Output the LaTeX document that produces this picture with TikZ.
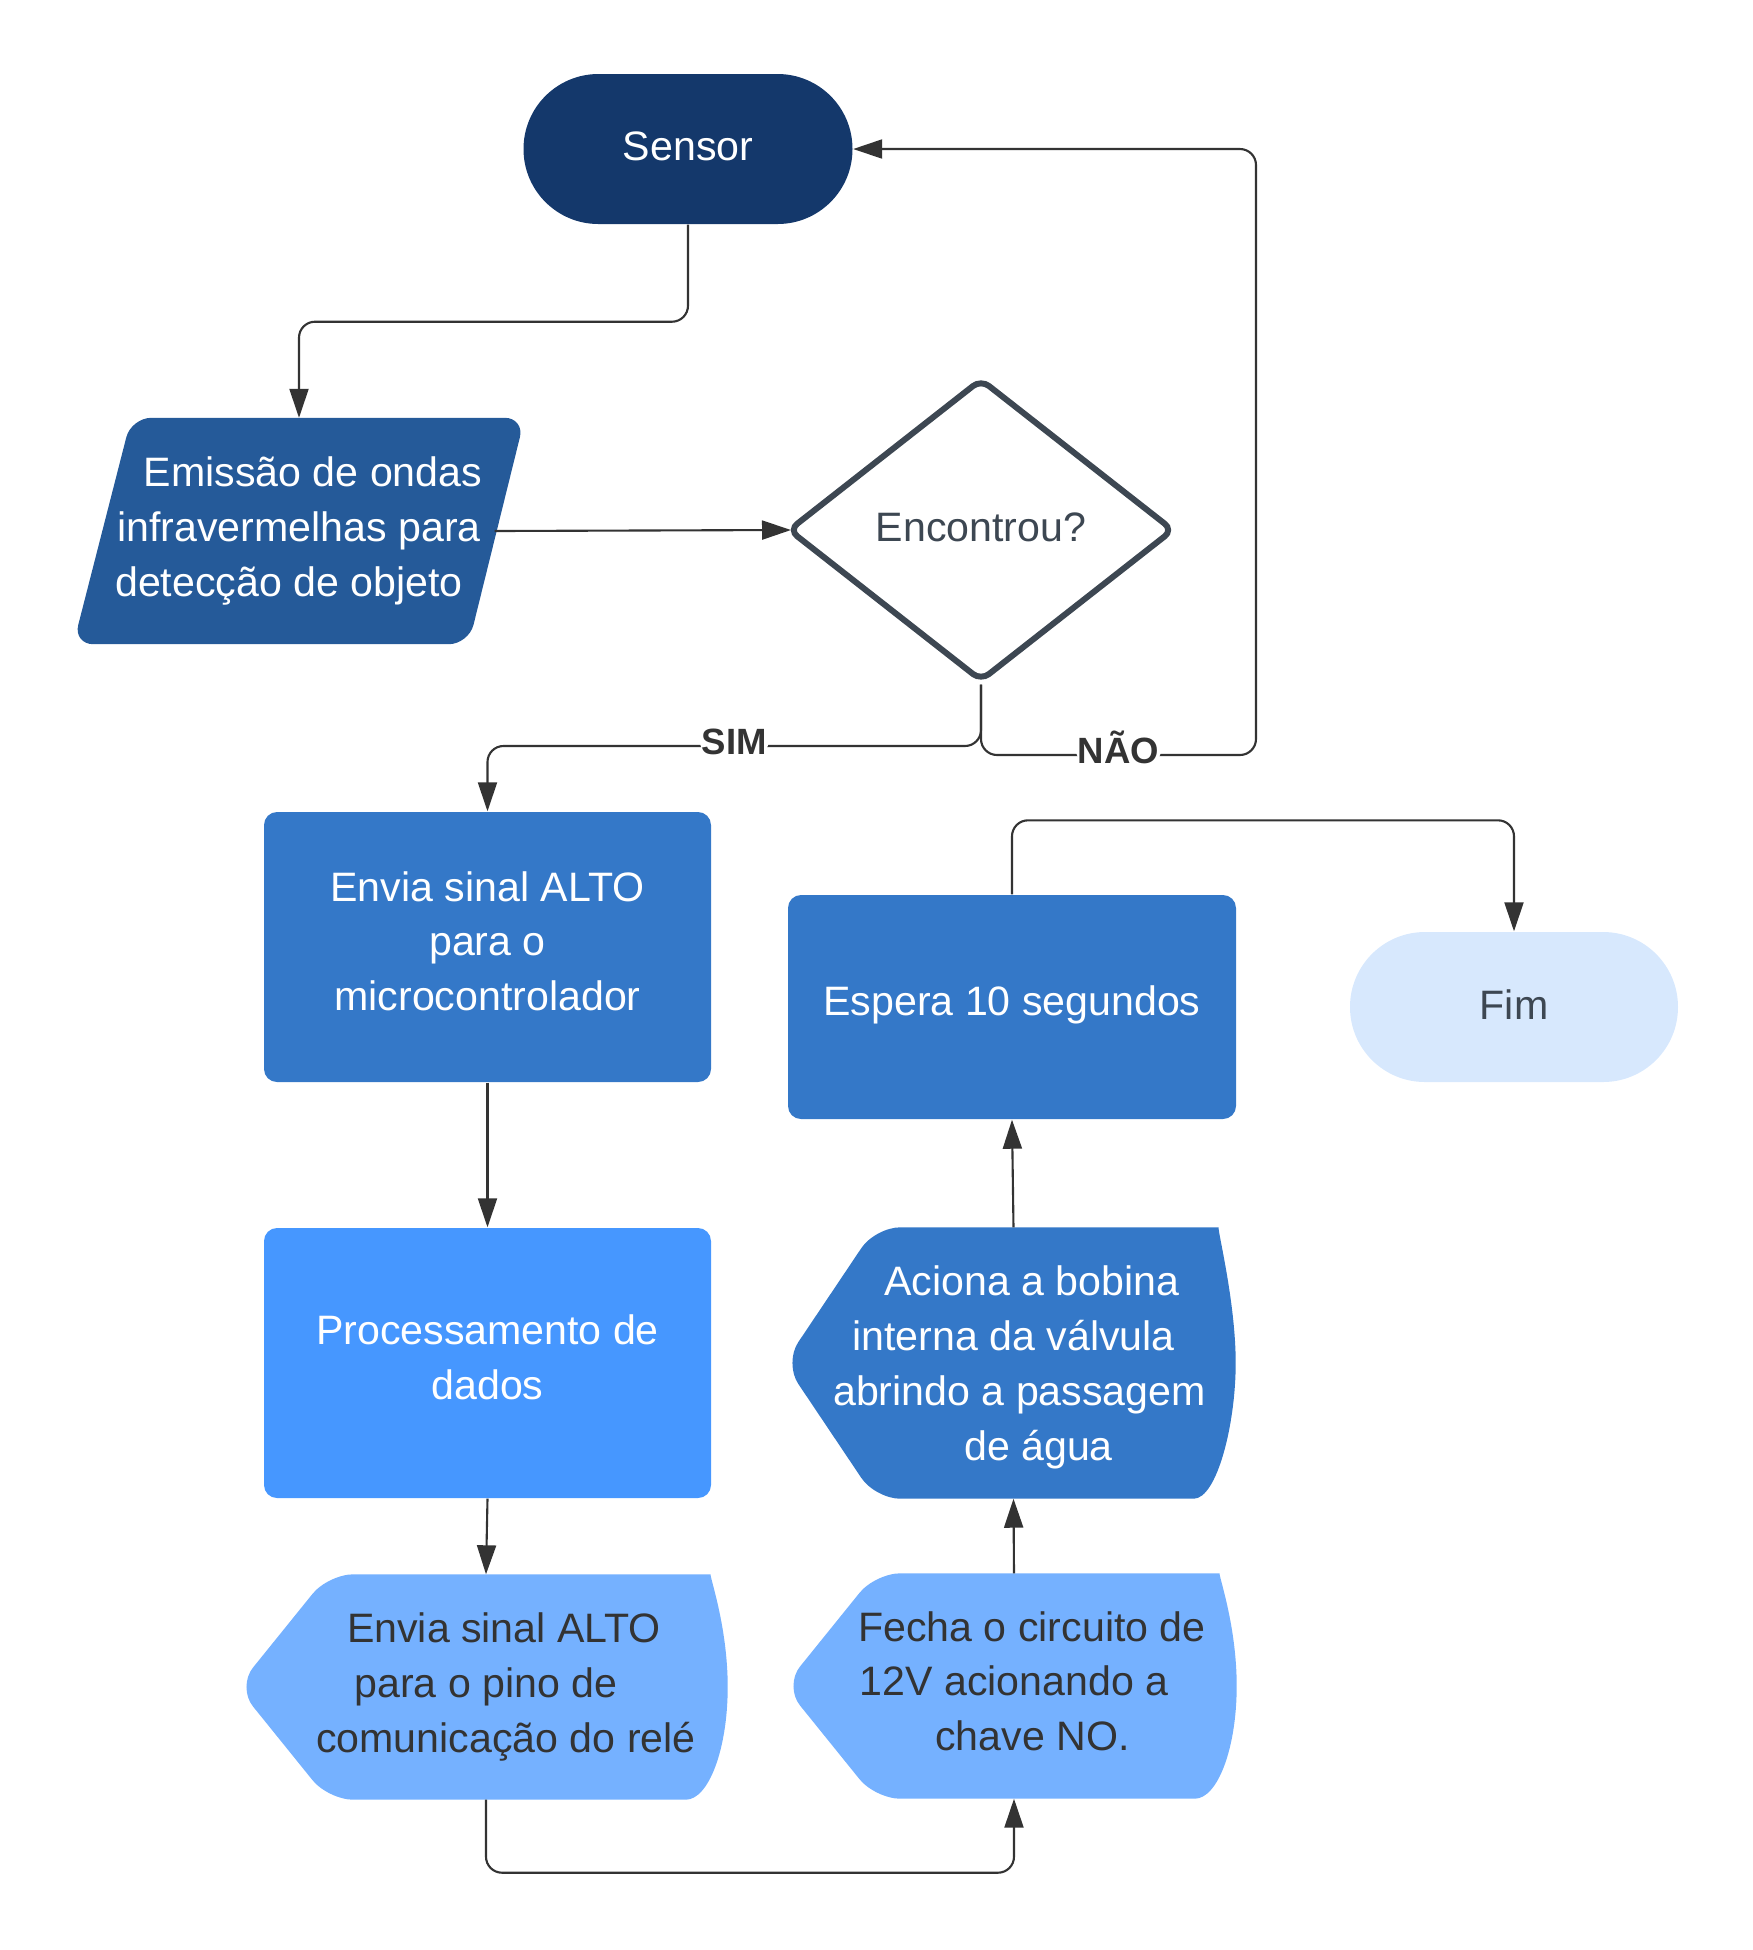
\documentclass[tikz,border=0pt]{standalone}
\usepackage{fontspec}
\setmainfont{Liberation Sans}
\usepackage{xcolor}
\usepackage{tikz}
\usetikzlibrary{positioning,shapes.geometric,arrows.meta,calc,backgrounds}

\definecolor{navy}{HTML}{14386B}
\definecolor{steelblue}{HTML}{255A99}
\definecolor{midblue}{HTML}{3478C8}
\definecolor{brightblue}{HTML}{4697FF}
\definecolor{lightblue}{HTML}{75B1FF}
\definecolor{paleblue}{HTML}{D7E8FD}
\definecolor{slate}{HTML}{3D4752}
\definecolor{ink}{HTML}{333333}

\newcommand{\displayfill}[2]{%
  \fill[#2, rounded corners=2.5mm] ($(#1.south east)+(-0.42,0)$) -- ($(#1.south west)+(0.84,0)$)
    -- ($(#1.west)+(-0.07,0)$) -- ($(#1.north west)+(0.84,0)$) -- ($(#1.north east)+(-0.42,0)$)
    [sharp corners] .. controls ($(#1.north east)+(-0.19,0)$) and ($(#1.east)+(0,-0.62)$) .. (#1.east)
    .. controls ($(#1.east)+(0,0.62)$) and ($(#1.south east)+(-0.19,0)$) .. cycle;}
\newcommand{\pad}[2]{\mbox{\hspace{#1}#2}}

\begin{document}
\begin{tikzpicture}[x=1cm,y=-1cm,
    every node/.style={font=\fontsize{11.7}{15.6}\selectfont, align=center, inner sep=0pt},
    term/.style={rectangle, rounded corners=7.49mm, minimum width=3.29cm, minimum height=1.5cm},
    proc/.style={rectangle, rounded corners=1.3mm, fill=midblue, text=white, minimum width=4.47cm, minimum height=2.7cm},
    shell/.style={rectangle, minimum width=#1, minimum height=2.24cm},
    conn/.style={draw=ink, line width=0.6pt, rounded corners=1.6mm, -{Triangle[length=2.9mm,width=1.9mm]}},
    lbl/.style={font=\fontsize{10.4}{12}\selectfont\bfseries, text=ink, fill=white, inner sep=0.6pt, text height=0.26cm, text depth=0pt, yshift=0.5mm}]
    \useasboundingbox (0,0) rectangle (17.53,19.50);

    \node[term, fill=navy, text=white, text depth=0.05cm] (sensor) at (6.88,1.49) {Sensor};
    \node[rectangle, minimum width=4.42cm, minimum height=2.25cm, text=white] (emissao) at (2.99,5.31) {\pad{0.28cm}{Emissão de ondas}\\infravermelhas para\\\mbox{detecção de objeto\hspace{0.2cm}}};
    \node[diamond, draw=slate, line width=1.7pt, rounded corners=1mm, fill=white, minimum width=3.86cm, minimum height=3.03cm, text=slate, text depth=0.05cm] (encontrou) at (9.81,5.30) {Encontrou?};
    \node[proc, text depth=0.12cm] (sinal) at (4.875,9.47) {Envia sinal ALTO\\para o\\microcontrolador};
    \node[proc, fill=brightblue, text depth=0.12cm] (dados) at (4.875,13.63) {Processamento de\\dados};
    \node[shell=4.82cm, text=ink] (pino) at (4.86,16.87) {\pad{0.36cm}{Envia sinal ALTO}\\para o pino de\\\pad{0.4cm}{comunicação do relé}};
    \node[shell=4.44cm, text=ink, text depth=0.1cm] (fecha) at (10.14,16.86) {\pad{0.36cm}{Fecha o circuito de}\\12V acionando a\\\pad{0.37cm}{chave NO.}};
    \node[shell=4.43cm, minimum height=2.7cm, text=white, text depth=0pt] (bobina) at (10.135,13.63) {\pad{0.37cm}{Aciona a bobina}\\interna da válvula\\\pad{0.12cm}{abrindo a passagem}\\\pad{0.5cm}{de água}};
    \node[proc, minimum width=4.48cm, minimum height=2.24cm, text depth=0.136cm] (espera) at (10.12,10.07) {Espera 10 segundos};
    \node[term, fill=paleblue, text=slate, minimum width=3.28cm, text depth=0.05cm] (fim) at (15.14,10.07) {Fim};

    \begin{pgfonlayer}{background}
        \fill[steelblue, rounded corners=2mm] ($(emissao.north west)+(0.54,0)$) -- ($(emissao.north east)+(0.04,0)$) -- ($(emissao.south east)+(-0.52,0)$) -- ($(emissao.south west)+(-0.04,0)$) -- cycle;
        \displayfill{pino}{lightblue}
        \displayfill{fecha}{lightblue}
        \displayfill{bobina}{midblue}
    \end{pgfonlayer}

    \draw[conn] (sensor.south) -- ++(0,0.97) -| (emissao.north);
    \draw[conn, shorten >=-0.6mm] ([xshift=-2.6mm]emissao.east) -- (encontrou.west);
    \draw[conn] (encontrou.south) -- ++(0,0.615) -| node[lbl, pos=0.25] {SIM} (sinal.north);
    \draw[conn] (encontrou.south) -- ++(0,0.705) -- ++(2.75,0) node[lbl, midway] {NÃO} |- (sensor.east);
    \draw[conn] (sinal.south) -- (dados.north);
    \draw[conn] (dados.south) -- (pino.north);
    \draw[conn] (pino.south) -- ++(0,0.73) -| (fecha.south);
    \draw[conn] (fecha.north) -- (bobina.south);
    \draw[conn] (bobina.north) -- (espera.south);
    \draw[conn] (espera.north) -- ++(0,-0.74) -| (fim.north);
\end{tikzpicture}
\end{document}
